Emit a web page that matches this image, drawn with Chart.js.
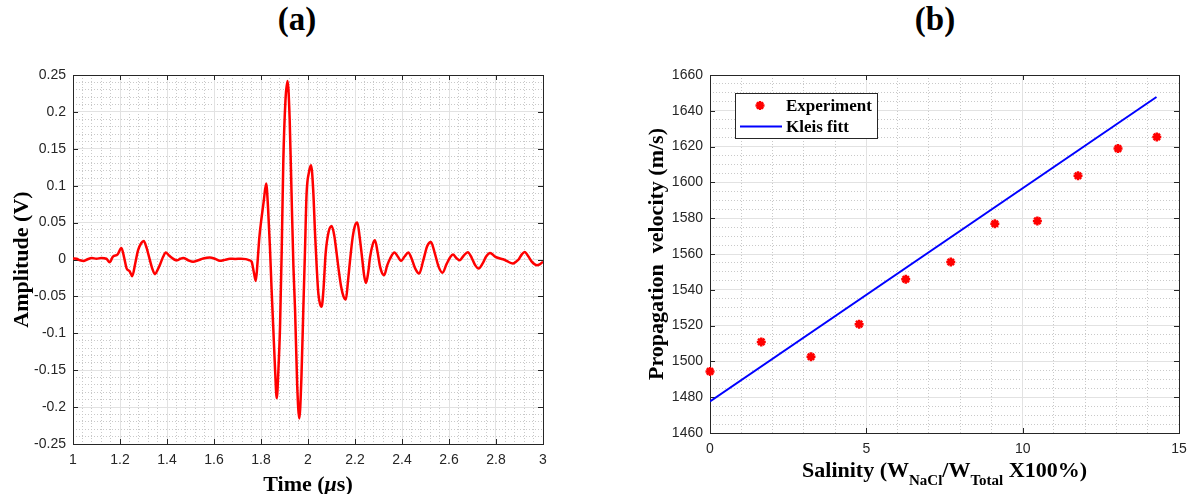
<!DOCTYPE html>
<html lang="en">
<head>
<meta charset="UTF-8">
<title>Pulse and propagation velocity</title>
<script src="https://cdn.jsdelivr.net/npm/chart.js"></script>
<style>
  body { margin: 0; width: 1198px; height: 494px; overflow: hidden; background: #fff; position: relative; }
  canvas { position: absolute; top: 0; }
  .tag { position: absolute; top: 1px; line-height: 1; font: bold 33px "Liberation Serif", "Times New Roman", serif; color: #000; transform: translateX(-50%); }
</style>
</head>
<body>
<div class="tag" style="left:297px">(a)</div>
<div class="tag" style="left:935px">(b)</div>
<canvas id="wave" style="left:0" width="600" height="494"></canvas>
<canvas id="vel" style="left:600px" width="598" height="494"></canvas>
<script>
// (a) received pulse
const timeUs = [
  1.000, 1.015, 1.030, 1.045, 1.060, 1.080, 1.100, 1.120, 1.142, 1.156,
  1.170, 1.190, 1.206, 1.218, 1.228, 1.241, 1.252, 1.265, 1.277, 1.290,
  1.301, 1.313, 1.324, 1.337, 1.349, 1.360, 1.372, 1.384, 1.395, 1.407,
  1.419, 1.431, 1.443, 1.456, 1.469, 1.490, 1.511, 1.533, 1.554, 1.582,
  1.604, 1.625, 1.646, 1.668, 1.690, 1.715, 1.735, 1.750, 1.760, 1.770,
  1.778, 1.785, 1.793, 1.803, 1.812, 1.822, 1.830, 1.838, 1.845, 1.852,
  1.860, 1.867, 1.874, 1.881, 1.888, 1.895, 1.904, 1.913, 1.922, 1.930,
  1.938, 1.945, 1.954, 1.963, 1.972, 1.980, 1.987, 1.994, 2.004, 2.013,
  2.022, 2.030, 2.037, 2.044, 2.051, 2.058, 2.066, 2.075, 2.088, 2.101,
  2.112, 2.122, 2.131, 2.141, 2.151, 2.161, 2.170, 2.179, 2.190, 2.200,
  2.210, 2.220, 2.231, 2.239, 2.247, 2.256, 2.264, 2.275, 2.285, 2.296,
  2.307, 2.316, 2.324, 2.337, 2.349, 2.368, 2.382, 2.396, 2.411, 2.427,
  2.440, 2.456, 2.473, 2.490, 2.507, 2.523, 2.540, 2.556, 2.572, 2.590,
  2.605, 2.617, 2.631, 2.645, 2.662, 2.680, 2.697, 2.712, 2.726, 2.742,
  2.758, 2.775, 2.796, 2.818, 2.833, 2.847, 2.872, 2.885, 2.896, 2.910,
  2.922, 2.938, 2.953, 2.974, 2.986, 3.000
];
const amplitudeV = [
  0.0015, 0.001, -0.001, -0.002, 0.000, 0.002, 0.001, 0.002, 0.001, -0.0037,
  0.004, 0.007, 0.0157, 0.002, -0.012, -0.016, -0.0226, -0.005, 0.0126, 0.022,
  0.0252, 0.016, 0.003, -0.012, -0.0199, -0.014, -0.0054, 0.004, 0.0095, 0.006,
  0.0027, 0.000, -0.001, 0.001, 0.0022, -0.001, -0.003, -0.001, 0.0013, 0.0027,
  0.001, -0.0018, -0.0005, 0.0009, 0.0008, 0.001, 0.0005, -0.001, -0.003, -0.018,
  -0.029, -0.005, 0.030, 0.058, 0.080, 0.103, 0.070, 0.017, -0.040, -0.091,
  -0.150, -0.188, -0.150, -0.091, 0.010, 0.134, 0.215, 0.2418, 0.190, 0.089,
  -0.010, -0.0686, -0.170, -0.2153, -0.160, -0.0686, 0.010, 0.089, 0.118, 0.1277,
  0.095, 0.035, -0.010, -0.046, -0.060, -0.0641, -0.040, 0.008, 0.038, 0.0455,
  0.032, 0.008, -0.015, -0.037, -0.050, -0.0542, -0.030, -0.001, 0.030, 0.046,
  0.050, 0.030, 0.000, -0.022, -0.0317, -0.018, 0.003, 0.020, 0.0261, 0.010,
  -0.010, -0.019, -0.0213, -0.008, 0.001, 0.0095, 0.004, -0.0019, 0.004, 0.0095,
  0.002, -0.012, -0.019, -0.002, 0.018, 0.0238, 0.008, -0.010, -0.018, -0.006,
  0.003, 0.0067, 0.002, -0.001, 0.005, 0.0099, 0.002, -0.008, -0.0122, -0.006,
  0.004, 0.0089, 0.004, 0.0013, 0.000, -0.0023, -0.0054, -0.003, 0.000, 0.007,
  0.0103, 0.004, -0.0032, -0.0077, -0.0065, -0.003
];
const timeTicks = [1, 1.2, 1.4, 1.6, 1.8, 2, 2.2, 2.4, 2.6, 2.8, 3];
const ampTicks = [-0.25, -0.2, -0.15, -0.1, -0.05, 0, 0.05, 0.1, 0.15, 0.2, 0.25];

// (b) velocity against salinity
const salinity = [0, 1.64, 3.23, 4.77, 6.26, 7.70, 9.11, 10.47, 11.77, 13.05, 14.29];
const velocity = [1494.4, 1510.9, 1502.6, 1520.8, 1545.9, 1555.5, 1576.9, 1578.5, 1603.7, 1618.9, 1625.4];
const fitSalinity = [0, 14.28];
const fitVelocity = [1477.6, 1647.7];
const salTicks = [0, 5, 10, 15];
const velTicks = [1460, 1480, 1500, 1520, 1540, 1560, 1580, 1600, 1620, 1640, 1660];

const AX = '#262626';
const SERIF = '"Liberation Serif", "Times New Roman", serif';
const SANS = '"Liberation Sans", Arial, sans-serif';

const fmt = v => String(+Number(v).toFixed(2));
const fixTicks = vals => s => { s.ticks = vals.map(v => ({ value: v })); };

// box round the plot with short inward ticks on every side
const boxPlugin = {
  id: 'box',
  beforeDatasetsDraw(chart) {
    const { ctx, chartArea: a, scales } = chart;
    ctx.save();
    ctx.strokeStyle = AX;
    ctx.lineWidth = 1;
    ctx.beginPath();
    scales.x.ticks.forEach(tk => {
      const px = Math.round(scales.x.getPixelForValue(tk.value)) + 0.5;
      ctx.moveTo(px, a.bottom); ctx.lineTo(px, a.bottom - 5);
      ctx.moveTo(px, a.top); ctx.lineTo(px, a.top + 5);
    });
    scales.y.ticks.forEach(tk => {
      const py = Math.round(scales.y.getPixelForValue(tk.value)) + 0.5;
      ctx.moveTo(a.left, py); ctx.lineTo(a.left + 5, py);
      ctx.moveTo(a.right, py); ctx.lineTo(a.right - 5, py);
    });
    ctx.stroke();
    ctx.strokeRect(a.left + 0.5, a.top + 0.5, a.right - a.left, a.bottom - a.top);
    ctx.restore();
  }
};

// x axis title built from runs so it can carry italics and subscripts
const xTitlePlugin = {
  id: 'xTitle',
  afterDraw(chart, args, opts) {
    if (!opts.runs) return;
    const { ctx, chartArea: a } = chart;
    ctx.save();
    ctx.fillStyle = '#000';
    ctx.textBaseline = 'alphabetic';
    let w = 0;
    opts.runs.forEach(r => { ctx.font = r.font; w += ctx.measureText(r.text).width; });
    let x = (a.left + a.right) / 2 - w / 2;
    opts.runs.forEach(r => {
      ctx.font = r.font;
      ctx.fillText(r.text, x, opts.y + (r.dy || 0));
      x += ctx.measureText(r.text).width;
    });
    ctx.restore();
  }
};

// boxed legend in the upper left corner of the plot
const legendPlugin = {
  id: 'boxLegend',
  afterDatasetsDraw(chart, args, o) {
    if (!o.width) return;
    const { ctx, chartArea: a } = chart;
    const x0 = a.left + o.dx, y0 = a.top + o.dy;
    ctx.save();
    ctx.fillStyle = '#fff';
    ctx.fillRect(x0, y0, o.width, o.height);
    ctx.strokeStyle = AX;
    ctx.lineWidth = 1;
    ctx.strokeRect(x0 + 0.5, y0 + 0.5, o.width, o.height);
    chart.data.datasets.forEach((ds, i) => {
      const cy = y0 + o.rows[i];
      ctx.strokeStyle = ds.borderColor;
      ctx.fillStyle = ds.backgroundColor || ds.borderColor;
      ctx.lineWidth = ds.borderWidth;
      if (ds.showLine) {
        ctx.beginPath();
        ctx.moveTo(x0 + 5, cy); ctx.lineTo(x0 + 47, cy);
        ctx.stroke();
      } else {
        Chart.helpers.drawPoint(ctx, { pointStyle: ds.pointStyle, radius: ds.pointRadius, borderWidth: ds.borderWidth, rotation: 0 }, x0 + 25, cy);
      }
      ctx.fillStyle = '#000';
      ctx.font = o.font;
      ctx.textBaseline = 'middle';
      ctx.fillText(ds.label, x0 + 51, cy + 1);
    });
    ctx.restore();
  }
};

const tickFont = { family: SANS, size: 14 };
const axisTitleFont = { family: SERIF, size: 22, weight: 'bold' };
const majorGrid = { color: '#e2e2e2', drawTicks: false };
const minorGrid = { color: '#c9c9c9', drawTicks: false, z: -2 };
const minorBorder = { display: false, dash: [1, 2] };

new Chart(document.getElementById('wave'), {
  type: 'line',
  data: {
    datasets: [{
      data: timeUs.map((t, i) => ({ x: t, y: amplitudeV[i] })),
      borderColor: '#ff0000',
      borderWidth: 2.5,
      pointRadius: 0,
      cubicInterpolationMode: 'monotone',
      fill: false
    }]
  },
  options: {
    responsive: false,
    animation: false,
    devicePixelRatio: 1,
    layout: { padding: { top: 75, right: 57, left: 0, bottom: 0 } },
    plugins: {
      legend: { display: false },
      tooltip: { enabled: false },
      xTitle: {
        y: 491,
        runs: [
          { text: 'Time (', font: `bold 22px ${SERIF}` },
          { text: 'μ', font: `italic bold 22px ${SERIF}` },
          { text: 's)', font: `bold 22px ${SERIF}` }
        ]
      }
    },
    scales: {
      xm: {
        type: 'linear', axis: 'x', position: 'bottom', min: 1, max: 3,
        ticks: { display: false, stepSize: 0.04 },
        grid: minorGrid, border: minorBorder,
        afterFit: s => { s.height = 0; }
      },
      ym: {
        type: 'linear', axis: 'y', position: 'left', min: -0.25, max: 0.25,
        ticks: { display: false, stepSize: 0.01 },
        grid: minorGrid, border: minorBorder,
        afterFit: s => { s.width = 0; }
      },
      x: {
        type: 'linear', position: 'bottom', min: 1, max: 3,
        afterBuildTicks: fixTicks(timeTicks),
        afterFit: s => { s.height = 50; },
        grid: majorGrid,
        border: { display: false },
        ticks: { callback: fmt, color: AX, font: tickFont, padding: 8, maxRotation: 0, autoSkip: false }
      },
      y: {
        type: 'linear', position: 'left', min: -0.25, max: 0.25,
        afterBuildTicks: fixTicks(ampTicks),
        afterFit: s => { s.width = 73; },
        grid: majorGrid,
        border: { display: false },
        ticks: { callback: fmt, color: AX, font: tickFont, padding: 7, autoSkip: false },
        title: { display: true, text: 'Amplitude (V)', color: '#000', font: axisTitleFont, padding: { top: 9, bottom: 0 } }
      }
    }
  },
  plugins: [boxPlugin, xTitlePlugin]
});

new Chart(document.getElementById('vel'), {
  type: 'scatter',
  data: {
    datasets: [{
      label: 'Experiment',
      data: salinity.map((s, i) => ({ x: s, y: velocity[i] })),
      pointStyle: 'star',
      pointRadius: 4.5,
      borderWidth: 2.5,
      borderColor: '#ff0000',
      backgroundColor: '#ff0000',
      showLine: false,
      clip: false
    }, {
      label: 'Kleis fitt',
      data: fitSalinity.map((s, i) => ({ x: s, y: fitVelocity[i] })),
      borderColor: '#0000ff',
      borderWidth: 2,
      pointRadius: 0,
      showLine: true,
      fill: false
    }]
  },
  options: {
    responsive: false,
    animation: false,
    devicePixelRatio: 1,
    layout: { padding: { top: 75, right: 19, left: 0, bottom: 0 } },
    plugins: {
      legend: { display: false },
      tooltip: { enabled: false },
      boxLegend: { dx: 25, dy: 18, width: 142, height: 45, rows: [12.5, 33.5], font: `bold 17px ${SERIF}` },
      xTitle: {
        y: 477,
        runs: [
          { text: 'Salinity (W', font: `bold 22px ${SERIF}` },
          { text: 'NaCl', font: `bold 15px ${SERIF}`, dy: 8 },
          { text: '/W', font: `bold 22px ${SERIF}` },
          { text: 'Total', font: `bold 15px ${SERIF}`, dy: 8 },
          { text: ' X100%)', font: `bold 22px ${SERIF}` }
        ]
      }
    },
    scales: {
      xm: {
        type: 'linear', axis: 'x', position: 'bottom', min: 0, max: 15,
        ticks: { display: false, stepSize: 1 },
        grid: minorGrid, border: minorBorder,
        afterFit: s => { s.height = 0; }
      },
      ym: {
        type: 'linear', axis: 'y', position: 'left', min: 1460, max: 1660,
        ticks: { display: false, stepSize: 5 },
        grid: minorGrid, border: minorBorder,
        afterFit: s => { s.width = 0; }
      },
      x: {
        type: 'linear', position: 'bottom', min: 0, max: 15,
        afterBuildTicks: fixTicks(salTicks),
        afterFit: s => { s.height = 61; },
        grid: majorGrid,
        border: { display: false },
        ticks: { callback: fmt, color: AX, font: tickFont, padding: 8, maxRotation: 0, autoSkip: false }
      },
      y: {
        type: 'linear', position: 'left', min: 1460, max: 1660,
        afterBuildTicks: fixTicks(velTicks),
        afterFit: s => { s.width = 110; },
        grid: majorGrid,
        border: { display: false },
        ticks: { callback: fmt, color: AX, font: tickFont, padding: 7, autoSkip: false },
        title: { display: true, text: 'Propagation  velocity (m/s)', color: '#000', font: axisTitleFont, padding: { top: 44, bottom: 0 } }
      }
    }
  },
  plugins: [boxPlugin, legendPlugin, xTitlePlugin]
});
</script>
</body>
</html>
